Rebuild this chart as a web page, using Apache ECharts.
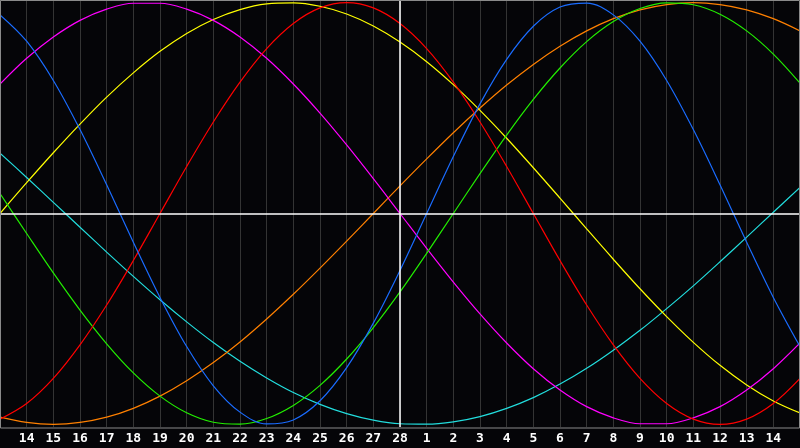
<!DOCTYPE html>
<html>
<head>
<meta charset="utf-8">
<script src="https://cdn.jsdelivr.net/npm/echarts@6/dist/echarts.min.js"></script>
<style>
html,body{margin:0;padding:0;background:#050508;}
#chart{width:800px;height:448px;}
</style>
</head>
<body>
<div id="chart"></div>
<script>
// day offsets relative to "today" (28th), -15 .. 15
var dayOffsets = [-15,-14,-13,-12,-11,-10,-9,-8,-7,-6,-5,-4,-3,-2,-1,0,1,2,3,4,5,6,7,8,9,10,11,12,13,14,15];
var dayLabels = ['13','14','15','16','17','18','19','20','21','22','23','24','25','26','27','28','1','2','3','4','5','6','7','8','9','10','11','12','13','14','15'];

var blueValues = [0.942,0.817,0.631,0.398,0.136,-0.136,-0.398,-0.631,-0.817,-0.942,-0.998,-0.979,-0.888,-0.731,-0.520,-0.270,0,0.270,0.520,0.731,0.888,0.979,0.998,0.942,0.817,0.631,0.398,0.136,-0.136,-0.398,-0.631];
var redValues = [-0.975,-0.901,-0.782,-0.623,-0.434,-0.223,0,0.223,0.434,0.623,0.782,0.901,0.975,1.0,0.975,0.901,0.782,0.623,0.434,0.223,0,-0.223,-0.434,-0.623,-0.782,-0.901,-0.975,-1.0,-0.975,-0.901,-0.782];
var greenValues = [0.095,-0.095,-0.282,-0.458,-0.618,-0.756,-0.866,-0.945,-0.990,-0.999,-0.972,-0.910,-0.815,-0.690,-0.541,-0.372,-0.189,0,0.189,0.372,0.541,0.690,0.815,0.910,0.972,0.999,0.990,0.945,0.866,0.756,0.618];
var magentaValues = [0.614,0.736,0.837,0.916,0.969,0.997,0.997,0.969,0.916,0.837,0.736,0.614,0.476,0.325,0.165,0,-0.165,-0.325,-0.476,-0.614,-0.736,-0.837,-0.916,-0.969,-0.997,-0.997,-0.969,-0.916,-0.837,-0.736,-0.614];
var yellowValues = [0,0.146,0.288,0.424,0.552,0.667,0.769,0.854,0.920,0.967,0.994,0.999,0.983,0.946,0.889,0.813,0.720,0.611,0.489,0.357,0.217,0.073,-0.073,-0.217,-0.357,-0.489,-0.611,-0.720,-0.813,-0.889,-0.946];
var orangeValues = [-0.966,-0.991,-1.0,-0.991,-0.966,-0.924,-0.866,-0.793,-0.707,-0.609,-0.5,-0.383,-0.259,-0.131,0,0.131,0.259,0.383,0.5,0.609,0.707,0.793,0.866,0.924,0.966,0.991,1.0,0.991,0.966,0.924,0.866];
var cyanValues = [0.286,0.171,0.053,-0.065,-0.183,-0.298,-0.409,-0.514,-0.612,-0.701,-0.780,-0.849,-0.905,-0.949,-0.980,-0.997,-0.999,-0.988,-0.963,-0.924,-0.873,-0.809,-0.734,-0.648,-0.554,-0.451,-0.343,-0.229,-0.112,0.006,0.124];

var curves = [
  {name:'Spiritual', values: cyanValues, color:'#22dddd'},
  {name:'Awareness', values: orangeValues, color:'#ff8000'},
  {name:'Aesthetic', values: yellowValues, color:'#ffff00'},
  {name:'Intuitive', values: magentaValues, color:'#ff00ff'},
  {name:'Intellectual', values: greenValues, color:'#22ee00'},
  {name:'Emotional', values: redValues, color:'#ff0000'},
  {name:'Physical', values: blueValues, color:'#1a6cff'}
];

function pairs(vals){
  return dayOffsets.map(function(d,i){ return [d, vals[i]]; });
}

var series = curves.map(function(c){
  return {
    type:'line', name:c.name, data:pairs(c.values), smooth:0.35,
    showSymbol:false, symbol:'none', silent:true,
    lineStyle:{color:c.color, width:1.2}, z:3
  };
});
series.push({
  type:'line', data:[], silent:true, z:2,
  markLine:{
    silent:true, symbol:['none','none'], label:{show:false},
    lineStyle:{color:'#ffffff', width:1.5, type:'solid'},
    data:[{yAxis:0},{xAxis:0}]
  }
});

var chart = echarts.init(document.getElementById('chart'), null, {renderer:'canvas'});
chart.setOption({
  backgroundColor:'#050508',
  animation:false,
  grid:{left:0, right:0, top:0, height:427, show:false},
  xAxis:{
    type:'value', min:-15, max:15, interval:1,
    axisLine:{show:false}, axisTick:{show:false},
    splitLine:{show:true, lineStyle:{color:'#343434', width:1}},
    axisLabel:{
      color:'#ffffff', fontFamily:'DejaVu Sans Mono', fontWeight:'bold', fontSize:13,
      margin:5, showMinLabel:false, showMaxLabel:false,
      formatter:function(v){ return dayLabels[Math.round(v)+15]; }
    }
  },
  yAxis:{
    type:'value', min:-1.0125, max:1.0125,
    axisLine:{show:false}, axisTick:{show:false}, axisLabel:{show:false},
    splitLine:{show:false}
  },
  graphic:[{
    type:'rect', silent:true, z:10,
    shape:{x:0.5, y:0.5, width:799, height:427.5},
    style:{fill:null, stroke:'#8a8a8a', lineWidth:1}
  }],
  series:series
});
</script>
</body>
</html>
